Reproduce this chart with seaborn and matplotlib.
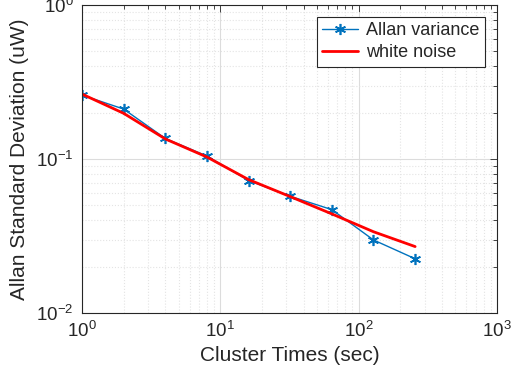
import matplotlib
matplotlib.use("Agg")
import matplotlib.pyplot as plt
import seaborn as sns
import pandas as pd
from matplotlib.ticker import LogLocator

tau = [1, 2, 4, 8, 16, 32, 64, 128, 256]
allan_dev = [0.260, 0.211, 0.136, 0.1045, 0.0725, 0.0573, 0.0469, 0.0298, 0.0225]
white_noise = [0.264, 0.198, 0.135, 0.103, 0.0735, 0.0570, 0.0440, 0.0337, 0.0270]

series_labels = ["Allan variance", "white noise"]
x_label = "Cluster Times (sec)"
y_label = "Allan Standard Deviation (uW)"

sns.set_style("white")
plt.rcParams['font.family'] = ['Liberation Sans', 'DejaVu Sans']
plt.rcParams['mathtext.fontset'] = 'custom'
plt.rcParams['mathtext.rm'] = 'Liberation Sans'
plt.rcParams['mathtext.it'] = 'Liberation Sans'

df = pd.DataFrame({"tau": tau, "allan": allan_dev, "wn": white_noise})

fig = plt.figure(figsize=(5.21, 3.81), dpi=100)
ax = fig.add_axes([82/521, 1-313/381, (497-82)/521, (313-5)/381])

sns.lineplot(data=df, x="tau", y="allan", ax=ax, color="#0072BD", marker=(6, 2, 0),
             markersize=8, markeredgecolor="#0072BD", markeredgewidth=1.2,
             linewidth=1.0, label=series_labels[0])
sns.lineplot(data=df, x="tau", y="wn", ax=ax, color="#FF0000", linewidth=2.0,
             label=series_labels[1])

ax.set_xscale("log")
ax.set_yscale("log")
ax.set_xlim(1, 1000)
ax.set_ylim(0.01, 1)
ax.xaxis.set_major_locator(LogLocator(base=10, numticks=10))
ax.yaxis.set_major_locator(LogLocator(base=10, numticks=10))
ax.xaxis.set_minor_locator(LogLocator(base=10, subs=range(2, 10), numticks=20))
ax.yaxis.set_minor_locator(LogLocator(base=10, subs=range(2, 10), numticks=20))

ax.grid(True, which="major", color="#dcdcdc", linestyle="-", linewidth=0.8)
ax.grid(True, which="minor", color="#e4e4e4", linestyle=":", linewidth=0.8)
ax.set_axisbelow(True)

axc = "#262626"
for s in ax.spines.values():
    s.set_color(axc)
    s.set_linewidth(0.8)
ax.tick_params(which="both", direction="in", top=True, right=True, colors=axc,
               labelsize=13.5, width=0.6)
ax.tick_params(which="major", length=5, pad=6)
ax.tick_params(which="minor", length=3)

ax.set_xlabel(x_label, fontsize=15, color=axc, labelpad=3)
ax.set_ylabel(y_label, fontsize=15, color=axc, labelpad=5)

leg = ax.legend(loc="upper right", fontsize=13, frameon=True, fancybox=False,
                edgecolor=axc, framealpha=1, handlelength=2.0, borderaxespad=0.65,
                labelspacing=0.28, handletextpad=0.45, borderpad=0.3)
leg.get_frame().set_linewidth(0.8)

fig.savefig("out.png", dpi=100)
